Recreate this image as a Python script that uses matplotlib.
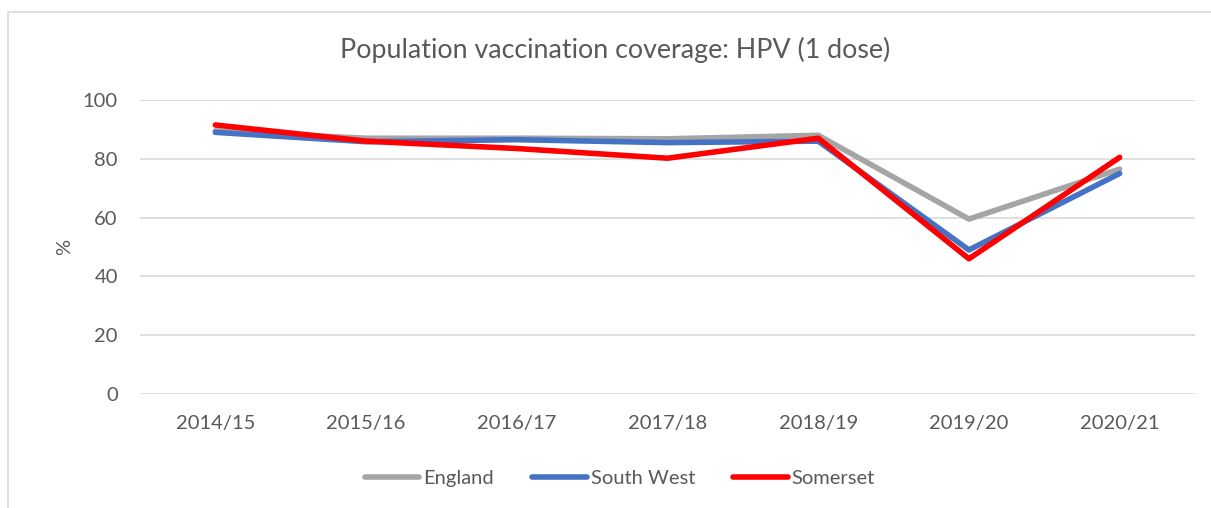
import matplotlib
matplotlib.use("Agg")
import matplotlib.pyplot as plt
from matplotlib.patches import Rectangle

years = ["2014/15", "2015/16", "2016/17", "2017/18", "2018/19", "2019/20", "2020/21"]
england = [89.5, 87.0, 87.0, 86.8, 88.0, 59.5, 76.5]
south_west = [89.0, 85.8, 86.5, 85.5, 86.0, 49.0, 75.0]
somerset = [91.5, 86.0, 83.5, 80.2, 87.0, 46.0, 80.5]
yticks = [0, 20, 40, 60, 80, 100]

plt.rcParams['font.family'] = ['Lato', 'DejaVu Sans']

W, H = 1211, 508
fig = plt.figure(figsize=(W / 100, H / 100), dpi=100)
ax = fig.add_axes([140 / W, 1 - 394 / H, (1195 - 140) / W, (394 - 100) / H])

# outer chart frame
fig.patches.append(Rectangle((8 / W, -0.05), 1.2, 1 - 12 / H + 0.05, transform=fig.transFigure,
                             fill=False, edgecolor='#d9d9d9', linewidth=1.2))

x = list(range(len(years)))
lw = 4.0
ax.plot(x, england, color='#a5a5a5', lw=lw, label='England', solid_capstyle='round', solid_joinstyle='round')
ax.plot(x, south_west, color='#4472c4', lw=lw, label='South West', solid_capstyle='round', solid_joinstyle='round')
ax.plot(x, somerset, color='#ff0000', lw=lw, label='Somerset', solid_capstyle='round', solid_joinstyle='round')

ax.set_xlim(-0.5, len(years) - 0.5)
ax.set_ylim(0, 100)
ax.set_yticks(yticks)
ax.set_xticks(x)
ax.set_xticklabels(years)
ax.yaxis.grid(True, color='#d9d9d9', lw=1.2)
ax.set_axisbelow(True)
for s in ax.spines.values():
    s.set_visible(False)
ax.tick_params(axis='both', length=0, labelsize=14.5, colors='#595959')
ax.tick_params(axis='x', pad=15)
ax.tick_params(axis='y', pad=16)

ax.set_ylabel('%', fontsize=14.5, color='#595959', labelpad=7)
fig.text(615 / W, 1 - 50 / H, 'Population vaccination coverage: HPV (1 dose)',
         ha='center', va='center', fontsize=19.3, color='#595959')

leg = fig.legend(loc='center', bbox_to_anchor=(620 / W, 1 - 478 / H), ncol=3, frameon=False,
                 fontsize=14.5, handlelength=2.7, handletextpad=0.2, columnspacing=1.9)
for t in leg.get_texts():
    t.set_color('#595959')

fig.savefig('out.png', dpi=100)
